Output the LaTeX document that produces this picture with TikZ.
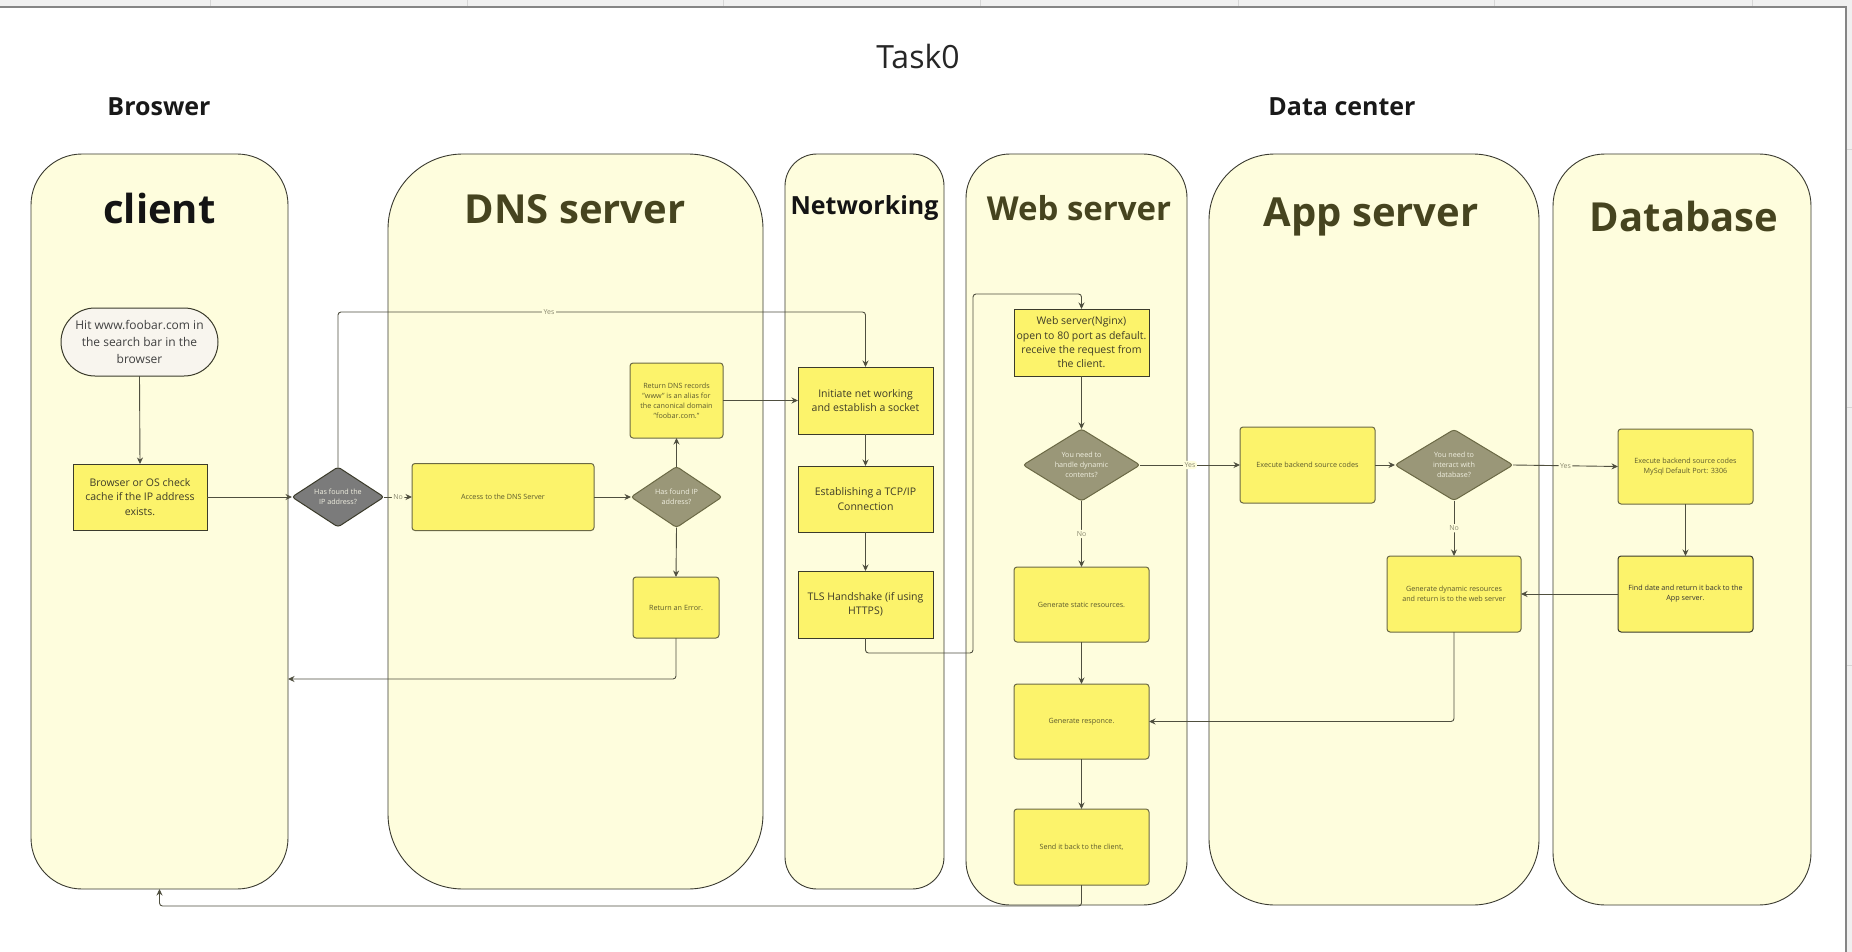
\documentclass[tikz,border=0pt]{standalone}
\usepackage{fontspec}
\setmainfont{Open Sans}
\usetikzlibrary{arrows.meta,shapes.geometric,calc}
\definecolor{lanefill}{HTML}{FEFDDD}
\definecolor{lanedraw}{HTML}{3A3A30}
\definecolor{boxfill}{HTML}{FCF36B}
\definecolor{boxdrawA}{HTML}{3B3B2B}
\definecolor{boxdrawB}{HTML}{6B6945}
\definecolor{medtext}{HTML}{3E3C28}
\definecolor{smalltext}{HTML}{5C5A2E}
\definecolor{diatext}{HTML}{F0EFE0}
\definecolor{diadark}{HTML}{7B7B7B}
\definecolor{diaolive}{HTML}{9A9778}
\definecolor{olivetitle}{HTML}{46441F}
\definecolor{conncol}{HTML}{4F4F3F}
\definecolor{labcol}{HTML}{8B8A70}
\definecolor{stripgray}{HTML}{F0F0F0}
\definecolor{gridgray}{HTML}{D6D6D6}
\definecolor{framegray}{HTML}{858585}
\definecolor{startfill}{HTML}{F8F5EE}
\newcommand\fSmall{\fontsize{7.2}{10}\selectfont}
\newcommand\fMed{\fontsize{10.5}{14.3}\selectfont}
\newcommand\fStart{\fontsize{12}{17}\selectfont}
\newcommand\fLab{\fontsize{7}{8}\selectfont}
\begin{document}
\begin{tikzpicture}[x=1pt,y=-1pt,
  lane/.style={draw=lanedraw, fill=lanefill, line width=0.9pt, inner sep=0pt, outer sep=0pt},
  lanetitle/.style={font=\bfseries\fontsize{40}{48}\selectfont, text=olivetitle, inner sep=0pt},
  sbox/.style={draw=boxdrawA, fill=boxfill, line width=1pt, align=center, font=\fMed, text=medtext, inner sep=0pt, outer sep=0pt},
  rbox/.style={draw=boxdrawB, fill=boxfill, rounded corners=3pt, line width=1pt, align=center, font=\fSmall, text=smalltext, inner sep=0pt, outer sep=0pt},
  dia/.style={diamond, aspect=1.6, draw=boxdrawA, line width=1pt, rounded corners=3pt, inner sep=0pt, outer sep=0pt, align=center, font=\fSmall, text=diatext},
  conn/.style={draw=conncol, line width=0.9pt, rounded corners=3pt, -{Stealth[length=6.5pt,width=6pt]}},
  lab/.style={font=\fLab, text=labcol, fill=lanefill, inner sep=1.5pt}
]
\useasboundingbox (0,0) rectangle (1852,952);
\fill[white] (0,0) rectangle (1852,952);
\fill[stripgray] (0,0) rectangle (1852,7);
\fill[stripgray] (1846,7) rectangle (1852,952);
\foreach \gx in {210,467,723,980,1238,1494,1752} \draw[gridgray, line width=0.8pt] (\gx,0) -- (\gx,7);
\foreach \gy in {149,407,665} \draw[gridgray, line width=0.8pt] (1846,\gy) -- (1852,\gy);
\draw[framegray, line width=1.5pt] (0,7) -- (1846,7) -- (1846,952);

% headings
\node[font=\fontsize{32}{38}\selectfont, text=black!85, inner sep=0pt] (task) at (918,57) {Task0};
\node[font=\bfseries\fontsize{25}{30}\selectfont, text=black!90, inner sep=0pt] (hbrowser) at (159,107) {Broswer};
\node[font=\bfseries\fontsize{25}{30}\selectfont, text=black!90, inner sep=0pt] (hdata) at (1342,107) {Data center};

% lanes
\node[lane, minimum width=257, minimum height=735, rounded corners=51] (client) at (159.5,521.5) {};
\node[lane, minimum width=375, minimum height=735, rounded corners=75] (dns) at (575.5,521.5) {};
\node[lane, minimum width=159, minimum height=735, rounded corners=32] (net) at (864.5,521.5) {};
\node[lane, minimum width=221, minimum height=751, rounded corners=44] (web) at (1076.5,529.5) {};
\node[lane, minimum width=330, minimum height=751, rounded corners=66] (app) at (1374,529.5) {};
\node[lane, minimum width=258, minimum height=751, rounded corners=52] (db) at (1682,529.5) {};

\node[lanetitle, text=black!92] (tclient) at (159.5,209) {client};
\node[lanetitle] (tdns) at (575,209) {DNS server};
\node[lanetitle, text=black!92, font=\bfseries\fontsize{25}{30}\selectfont] (tnet) at (864.5,208) {Networking};
\node[lanetitle, font=\bfseries\fontsize{33}{40}\selectfont] (tweb) at (1079,208) {Web server};
\node[lanetitle] (tapp) at (1371,217) {App server};
\node[lanetitle] (tdb) at (1684,217) {Database};

% client lane
\node[draw=boxdrawA, fill=startfill, line width=1pt, rounded corners=34, minimum width=157, minimum height=68, inner sep=0pt, outer sep=0pt, align=center, font=\fStart, text=black!75] (start) at (139.5,342) {Hit www.foobar.com in\\the search bar in the\\browser};
\node[sbox, minimum width=134, minimum height=66] (cache) at (140,497) {Browser or OS check\\cache if the IP address\\exists.};
\node[dia, fill=diadark, minimum width=92, minimum height=60] (d1) at (338,497) {Has found the\\IP address?};

% DNS lane
\node[rbox, minimum width=182, minimum height=67] (access) at (503,497) {Access to the DNS Server};
\node[dia, fill=diaolive, draw=boxdrawB, minimum width=91, minimum height=61] (d2) at (676.5,497) {Has found IP\\address?};
\node[rbox, minimum width=93, minimum height=75] (dnsrec) at (676.5,400.5) {Return DNS records\\"www" is an alias for\\the canonical domain\\"foobar.com."};
\node[rbox, minimum width=86, minimum height=61] (err) at (676,607.5) {Return an Error.};

% networking lane
\node[sbox, minimum width=135, minimum height=67] (init) at (865.5,400.5) {Initiate net working\\and establish a socket};
\node[sbox, minimum width=135, minimum height=66] (tcp) at (865.5,499) {Establishing a TCP/IP\\Connection};
\node[sbox, minimum width=135, minimum height=67] (tls) at (865.5,604.5) {TLS Handshake (if using\\HTTPS)};

% web lane
\node[sbox, minimum width=135, minimum height=67] (nginx) at (1081.5,342.5) {Web server(Nginx)\\open to 80 port as default.\\receive the request from\\the client.};
\node[dia, fill=diaolive, draw=boxdrawB, minimum width=117, minimum height=72] (d3) at (1081.5,465) {You need to\\handle dynamic\\contents?};
\node[rbox, minimum width=135, minimum height=75] (static) at (1081.5,604.5) {Generate static resources.};
\node[rbox, minimum width=135, minimum height=75] (resp) at (1081.5,721.5) {Generate responce.};
\node[rbox, minimum width=135, minimum height=76] (send) at (1081.5,847) {Send it back to the client,};

% app lane
\node[rbox, minimum width=135, minimum height=76] (exec) at (1307.5,465) {Execute backend source codes};
\node[dia, fill=diaolive, draw=boxdrawB, minimum width=118, minimum height=71] (d4) at (1454,465) {You need to\\interact with\\database?};
\node[rbox, minimum width=134, minimum height=76] (gendyn) at (1454,594) {Generate dynamic resources\\and return is to the web server};

% db lane
\node[rbox, minimum width=135, minimum height=75] (dbexec) at (1685.5,466.5) {Execute backend source codes\\MySql Default Port: 3306};
\node[rbox, draw=boxdrawA, text=black!80, minimum width=135, minimum height=76] (find) at (1685.5,594) {Find date and return it back to the\\App server.};

% helper coordinates
\coordinate (yesrow) at (0,312);
\coordinate (errrow) at (0,679);
\coordinate (backrow) at (0,906);
\coordinate (tlsrow) at (0,653);
\coordinate (gaprow) at (0,294);
\coordinate (gapcol) at (973,0);

% connectors
\draw[conn] (start.south) -- (cache.north);
\draw[conn] (cache.east) -- (d1.west);
\draw[conn] (d1.east) -- node[lab]{No} (access.west);
\draw[conn] (d1.north) -- (d1.north |- yesrow) -- node[lab, pos=0.4]{Yes} (init.north |- yesrow) -- (init.north);
\draw[conn] (access.east) -- (d2.west);
\draw[conn] (d2.north) -- (dnsrec.south);
\draw[conn] (d2.south) -- (err.north);
\draw[conn] (err.south) -- (err.south |- errrow) -- (client.east |- errrow);
\draw[conn] (dnsrec.east) -- (init.west);
\draw[conn] (init.south) -- (tcp.north);
\draw[conn] (tcp.south) -- (tls.north);
\draw[conn] (tls.south) -- (tls.south |- tlsrow) -- (gapcol |- tlsrow) -- (gapcol |- gaprow) -- (nginx.north |- gaprow) -- (nginx.north);
\draw[conn] (nginx.south) -- (d3.north);
\draw[conn] (d3.east) -- node[lab]{Yes} (exec.west);
\draw[conn] (d3.south) -- node[lab]{No} (static.north);
\draw[conn] (static.south) -- (resp.north);
\draw[conn] (resp.south) -- (send.north);
\draw[conn] (send.south) -- (send.south |- backrow) -- (client.south |- backrow) -- (client.south);
\draw[conn] (exec.east) -- (d4.west);
\draw[conn] (d4.east) -- node[lab]{Yes} (dbexec.west);
\draw[conn] (d4.south) -- node[lab]{No} (gendyn.north);
\draw[conn] (dbexec.south) -- (find.north);
\draw[conn] (find.west) -- (gendyn.east);
\draw[conn] (gendyn.south) |- (resp.east);
\end{tikzpicture}
\end{document}
